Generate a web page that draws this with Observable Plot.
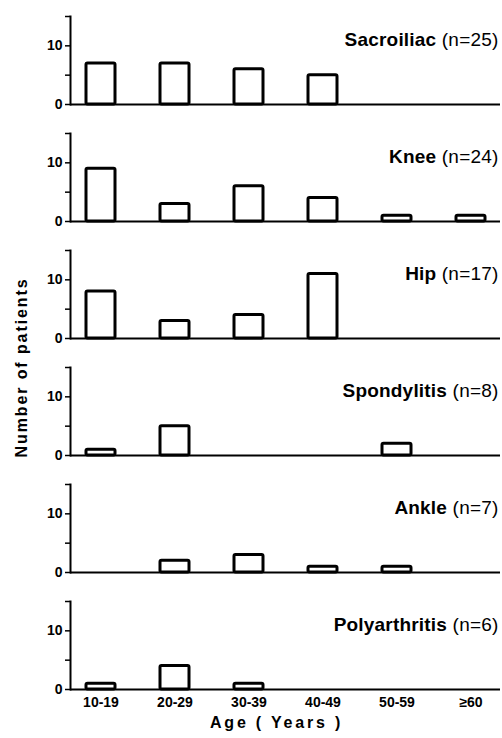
<!DOCTYPE html>
<html>
<head>
<meta charset="utf-8">
<script src="https://cdn.jsdelivr.net/npm/d3@7"></script>
<script src="https://cdn.jsdelivr.net/npm/@observablehq/plot@0.6"></script>
<style>
  body { margin: 0; background: #fff; }
</style>
</head>
<body>
<div id="chart"></div>
<script>
const joints = ["Sacroiliac", "Knee", "Hip", "Spondylitis", "Ankle", "Polyarthritis"];
const nCounts = [25, 24, 17, 8, 7, 6];
const ageGroups = ["10-19", "20-29", "30-39", "40-49", "50-59", "≥60"];
const sacroiliac = [7, 7, 6, 5, 0, 0];
const knee = [9, 3, 6, 4, 1, 1];
const hip = [8, 3, 4, 11, 0, 0];
const spondylitis = [1, 5, 0, 0, 2, 0];
const ankle = [0, 2, 3, 1, 1, 0];
const polyarthritis = [1, 4, 1, 0, 0, 0];
const yTicks = [0, 5, 10, 15];
const yLabelledTicks = [0, 10];
const yLabel = "Number of patients";
const xLabel = "Age ( Years )";

const seriesByJoint = [sacroiliac, knee, hip, spondylitis, ankle, polyarthritis];
const rows = [];
joints.forEach((j, ji) => seriesByJoint[ji].forEach((c, ai) => rows.push({joint: j, age: ageGroups[ai], count: c})));
const titles = joints.map((j, i) => ({joint: j, label: `${j} (n=${nCounts[i]})`}));

const chart = Plot.plot({
  width: 502,
  height: 738,
  marginLeft: 70,
  marginRight: 2,
  marginTop: 15,
  marginBottom: 49,
  style: {fontFamily: '"Liberation Sans", Arial, sans-serif', color: "#000", background: "#fff"},
  x: {domain: ageGroups, paddingInner: 0.609, paddingOuter: 0.202},
  y: {domain: [0, 15]},
  fy: {domain: joints, paddingInner: 0.249, paddingOuter: 0, axis: null},
  marks: [
    Plot.barY(rows, {filter: d => d.count > 0, x: "age", y: "count", fy: "joint", fill: "white", stroke: "black", strokeWidth: 3, rx: 1.5}),
    Plot.ruleY([0], {stroke: "black", strokeWidth: 2}),
    Plot.frame({anchor: "left", stroke: "black", strokeWidth: 2}),
    Plot.axisY({ticks: yTicks, tickFormat: d => yLabelledTicks.includes(d) ? String(d) : "", tickSize: 5, tickPadding: 3, fontSize: 14, fontWeight: "bold", label: null, strokeWidth: 1.5}),
    Plot.axisX({tickSize: 0, tickPadding: 8, fontSize: 14, fontWeight: "bold", label: null}),
    Plot.text(titles, {fy: "joint", text: "label", frameAnchor: "top-right", lineAnchor: "middle", dy: 23, dx: -2, textAnchor: "end", fontSize: 19}),
    Plot.text([yLabel], {fy: () => "Spondylitis", frameAnchor: "top-left", dx: -49, rotate: -90, textAnchor: "middle", lineAnchor: "middle", fontSize: 16, fontWeight: "bold"}),
    Plot.text([xLabel], {fy: () => "Polyarthritis", frameAnchor: "bottom", lineAnchor: "middle", dy: 33, dx: -9, textAnchor: "middle", fontSize: 16, fontWeight: "bold"})
  ]
});

const titleSet = new Set(titles.map(d => d.label));
d3.select(chart).selectAll("text").each(function () {
  const t = this.textContent;
  if (titleSet.has(t)) {
    const k = t.indexOf(" (");
    this.textContent = "";
    this.setAttribute("letter-spacing", "0.2");
    d3.select(this).append("tspan").attr("font-weight", "bold").text(t.slice(0, k));
    d3.select(this).append("tspan").attr("font-weight", "normal").text(t.slice(k));
  } else if (t === yLabel) {
    this.setAttribute("letter-spacing", "1.9");
  } else if (t === xLabel) {
    this.setAttribute("letter-spacing", "2.8");
  }
});

document.getElementById("chart").appendChild(chart);
</script>
</body>
</html>
